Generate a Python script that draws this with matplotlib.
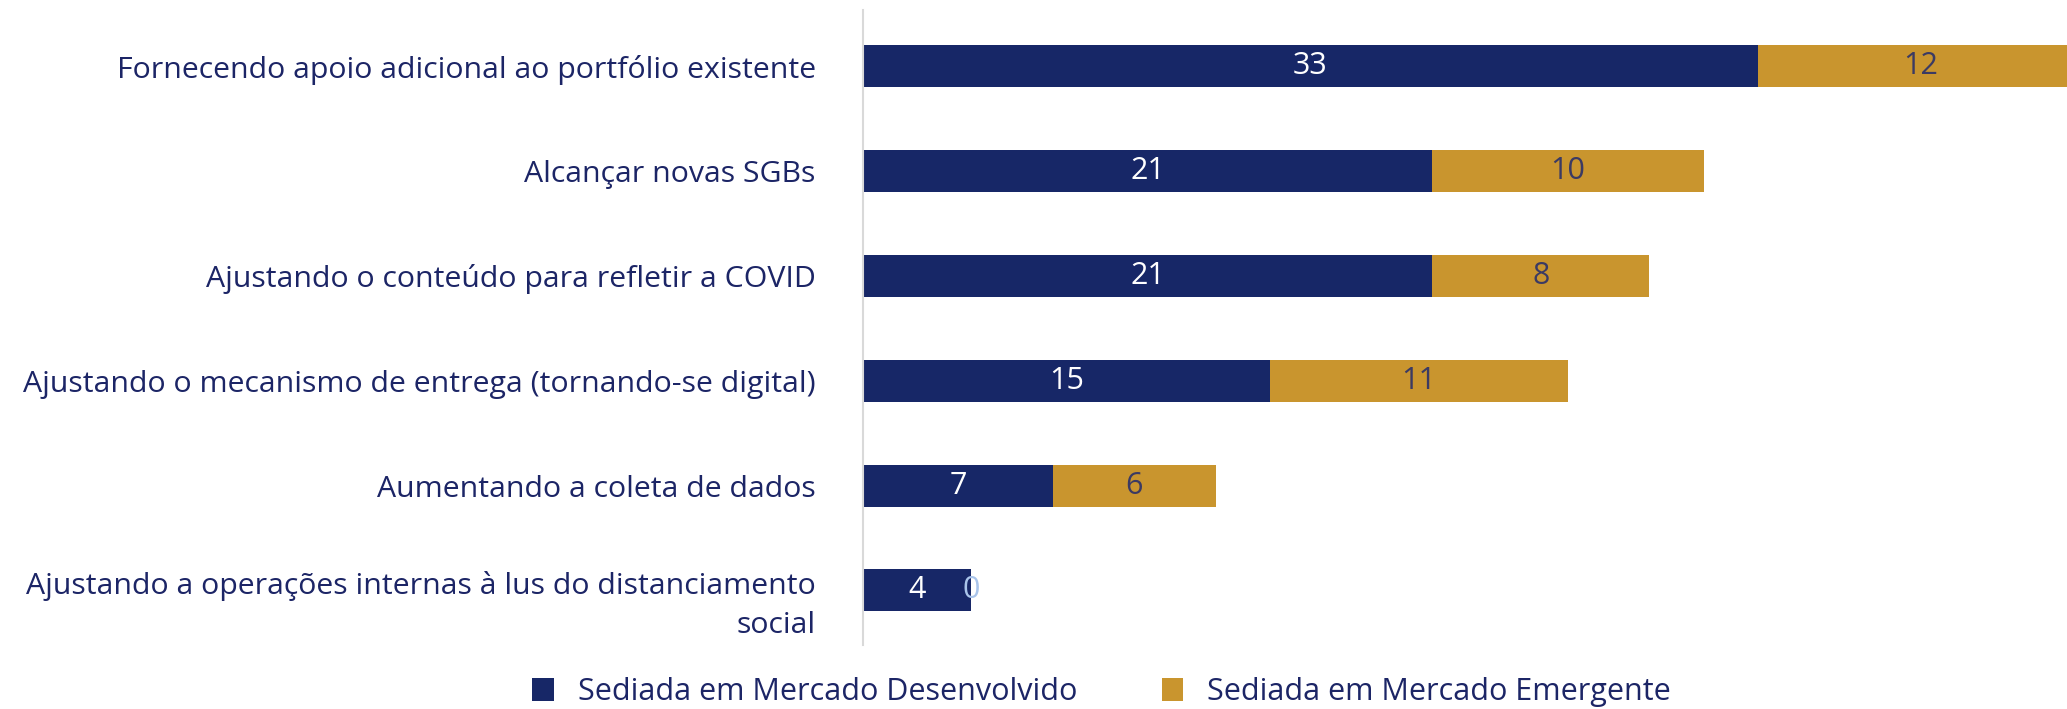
import matplotlib
matplotlib.use("Agg")
import matplotlib.pyplot as plt
from matplotlib.patches import Patch
from matplotlib.transforms import ScaledTranslation

categories = [
    "Fornecendo apoio adicional ao portfólio existente",
    "Alcançar novas SGBs",
    "Ajustando o conteúdo para refletir a COVID",
    "Ajustando o mecanismo de entrega (tornando-se digital)",
    "Aumentando a coleta de dados",
    "Ajustando a operações internas à lus do distanciamento\nsocial",
]
developed = [33, 21, 21, 15, 7, 4]
emerging = [12, 10, 8, 11, 6, 0]
series_names = ["Sediada em Mercado Desenvolvido", "Sediada em Mercado Emergente"]

NAVY = "#172767"
GOLD = "#C9952E"
TEXT = "#1c2566"

plt.rcParams["font.family"] = ["Open Sans", "DejaVu Sans"]

fig = plt.figure(figsize=(20.67, 7.09), dpi=100)
ax = fig.add_axes([863 / 2067, 1 - 645 / 709, 1 - 863 / 2067, (645 - 10) / 709])

y = list(range(len(categories)))
b1 = ax.barh(y, developed, height=0.4, color=NAVY, label=series_names[0])
b2 = ax.barh(y, emerging, left=developed, height=0.4, color=GOLD, label=series_names[1])

ax.set_xlim(0, 44.4)
ax.set_ylim(5.52, -0.535)
ax.set_yticks(y)
ax.set_yticklabels(categories, fontsize=21.8, color=TEXT, ha="right", linespacing=1.45)
ax.tick_params(axis="y", length=0, pad=34)
ax.set_xticks([])
for s in ["top", "right", "bottom"]:
    ax.spines[s].set_visible(False)
ax.spines["left"].set_color("#d9d9d9")
ax.spines["left"].set_linewidth(1.5)

last = ax.get_yticklabels()[-1]
last.set_transform(last.get_transform() + ScaledTranslation(0, -0.07, fig.dpi_scale_trans))

for i, (d, e) in enumerate(zip(developed, emerging)):
    ax.text(d / 2, i, str(d), ha="center", va="center", fontsize=22, color="white")
    if e > 0:
        ax.text(d + e / 2, i, str(e), ha="center", va="center", fontsize=22, color="#3b3a63")
    else:
        ax.text(d, i, str(e), ha="center", va="center", fontsize=22, color="#a9c4ea")

handles = [Patch(facecolor=NAVY), Patch(facecolor=GOLD)]
leg = fig.legend(handles, series_names, loc="center", bbox_to_anchor=(0.533, 0.024),
                 ncol=2, frameon=False, fontsize=22, handlelength=0.7, handleheight=0.8,
                 handletextpad=0.8, columnspacing=2.75, labelcolor=TEXT)

fig.savefig("out.png", dpi=100)
